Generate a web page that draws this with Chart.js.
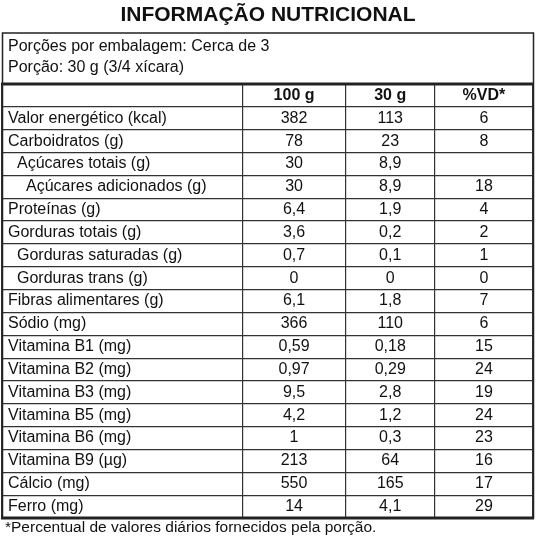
<!DOCTYPE html>
<html><head><meta charset="utf-8">
<script src="https://cdn.jsdelivr.net/npm/chart.js@4"></script>
<style>html,body{margin:0;padding:0;background:#fff}#w{width:536px;height:536px}</style>
</head><body><div id="w"><canvas id="c"></canvas></div>
<script>
const title = "INFORMAÇÃO NUTRICIONAL";
const servingLines = ["Porções por embalagem: Cerca de 3", "Porção: 30 g (3/4 xícara)"];
const columnHeaders = ["", "100 g", "30 g", "%VD*"];
const columnBounds = [0, 240, 343, 432, 530];
const nutrients = ["Valor energético (kcal)","Carboidratos (g)","Açúcares totais (g)","Açúcares adicionados (g)","Proteínas (g)","Gorduras totais (g)","Gorduras saturadas (g)","Gorduras trans (g)","Fibras alimentares (g)","Sódio (mg)","Vitamina B1 (mg)","Vitamina B2 (mg)","Vitamina B3 (mg)","Vitamina B5 (mg)","Vitamina B6 (mg)","Vitamina B9 (µg)","Cálcio (mg)","Ferro (mg)"];
const indent = [0,0,1,2,0,0,1,1,0,0,0,0,0,0,0,0,0,0];
const per100g = ["382","78","30","30","6,4","3,6","0,7","0","6,1","366","0,59","0,97","9,5","4,2","1","213","550","14"];
const per30g = ["113","23","8,9","8,9","1,9","0,2","0,1","0","1,8","110","0,18","0,29","2,8","1,2","0,3","64","165","4,1"];
const vd = ["6","8","","18","4","2","1","0","7","6","15","24","19","24","23","16","17","29"];
const footnote = "*Percentual de valores diários fornecidos pela porção.";

const rowLabels = ["header", ...nutrients];
const F = "'Liberation Sans', Arial, sans-serif";

const tablePlugin = {
  id: 'table',
  afterDraw(chart) {
    const ctx = chart.ctx, x = chart.scales.x, y = chart.scales.y, a = chart.chartArea;
    ctx.save();
    ctx.fillStyle = '#111';
    ctx.textBaseline = 'middle';
    ctx.textAlign = 'center';
    ctx.font = "bold 21px " + F;
    ctx.fillText(title, 268, 15);
    ctx.textAlign = 'left';
    ctx.font = "16px " + F;
    ctx.fillText(servingLines[0], 8, 47);
    ctx.fillText(servingLines[1], 8, 68);
    ctx.font = "15.5px " + F;
    ctx.fillText(footnote, 5, 528);
    ctx.strokeStyle = '#222'; ctx.lineWidth = 1.5;
    ctx.strokeRect(2.5, 33, a.right - 2, a.bottom - 33);
    ctx.lineWidth = 3;
    ctx.beginPath(); ctx.moveTo(a.left - 1, a.top); ctx.lineTo(a.right + 1, a.top);
    ctx.moveTo(a.left - 1, a.bottom); ctx.lineTo(a.right + 1, a.bottom); ctx.stroke();
    const mid = i => (x.getPixelForValue(columnBounds[i]) + x.getPixelForValue(columnBounds[i+1])) / 2;
    ctx.textAlign = 'center';
    ctx.font = "bold 16px " + F;
    for (let c = 1; c < 4; c++) ctx.fillText(columnHeaders[c], mid(c), y.getPixelForValue(0));
    ctx.font = "16px " + F;
    nutrients.forEach((n, i) => {
      const py = y.getPixelForValue(i + 1);
      ctx.textAlign = 'left';
      ctx.fillText(n, x.getPixelForValue(0) + 6 + indent[i] * 9, py);
      ctx.textAlign = 'center';
      ctx.fillText(per100g[i], mid(1), py);
      ctx.fillText(per30g[i], mid(2), py);
      ctx.fillText(vd[i], mid(3), py);
    });
    ctx.restore();
  }
};

new Chart(document.getElementById('c'), {
  type: 'scatter',
  data: { datasets: [{ data: [] }] },
  options: {
    responsive: true, maintainAspectRatio: false, animation: false,
    layout: { padding: { left: 2, right: 3, top: 84, bottom: 18 } },
    plugins: { legend: { display: false }, tooltip: { enabled: false } },
    scales: {
      x: { type: 'linear', min: columnBounds[0], max: columnBounds[columnBounds.length-1],
        afterBuildTicks: s => { s.ticks = columnBounds.map(v => ({ value: v })); },
        ticks: { display: false }, border: { display: false },
        grid: { color: '#333', lineWidth: 1.2, drawTicks: false } },
      y: { type: 'category', labels: rowLabels, offset: true,
        ticks: { display: false }, border: { display: false },
        grid: { offset: true, color: '#333', lineWidth: 1.2, drawTicks: false } }
    }
  },
  plugins: [tablePlugin]
});
</script></body></html>
